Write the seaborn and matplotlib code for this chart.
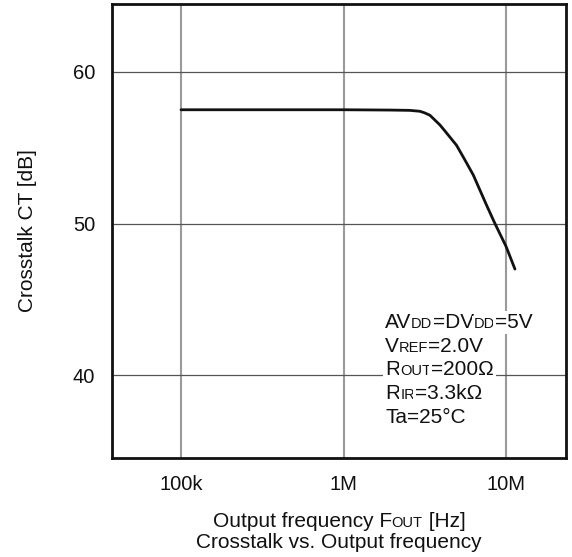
import numpy as np
import pandas as pd
import matplotlib
matplotlib.use("Agg")
import matplotlib.pyplot as plt
from matplotlib.ticker import FixedLocator, FixedFormatter, NullLocator
from matplotlib.transforms import IdentityTransform
import seaborn as sns

# values
freq_hz = [1e5, 1e6, 1.93e6, 2.56e6, 2.95e6, 3.15e6, 3.4e6, 3.92e6, 4.21e6,
           4.96e6, 5.58e6, 6.29e6, 7.6e6, 8.55e6, 10.0e6, 11.35e6]
crosstalk_db = [57.5, 57.5, 57.48, 57.46, 57.4, 57.3, 57.14, 56.5, 56.1,
                55.16, 54.2, 53.2, 51.2, 50.0, 48.5, 47.0]

x_ticks = [1e5, 1e6, 1e7]
x_tick_labels = ["100k", "1M", "10M"]
y_ticks = [40, 50, 60]

# each condition line as (text, small caps?) pieces
conditions = [
    [("AV", False), ("DD", True), ("=DV", False), ("DD", True), ("=5V", False)],
    [("V", False), ("REF", True), ("=2.0V", False)],
    [("R", False), ("OUT", True), ("=200\u03a9", False)],
    [("R", False), ("IR", True), ("=3.3k\u03a9", False)],
    [("Ta=25\u00b0C", False)],
]
xlabel_parts = [("Output frequency F", False), ("OUT", True), (" [Hz]", False)]
title_text = "Crosstalk vs. Output frequency"

sns.set_theme(style="white")
plt.rcParams["font.family"] = ["Liberation Sans", "DejaVu Sans"]

W, H = 572, 557
fig = plt.figure(figsize=(W / 100, H / 100), dpi=100)
ax = fig.add_axes([112 / W, 1 - 458 / H, 454 / W, 454 / H])

df = pd.DataFrame({"freq": freq_hz, "ct": crosstalk_db})
sns.lineplot(data=df, x="freq", y="ct", ax=ax, color="#111111", lw=2)

ax.set_xscale("log")
ax.set_xlim(3.76e4, 2.34e7)
ax.set_ylim(34.55, 64.47)
ax.xaxis.set_major_locator(FixedLocator(x_ticks))
ax.xaxis.set_major_formatter(FixedFormatter(x_tick_labels))
ax.xaxis.set_minor_locator(NullLocator())
ax.yaxis.set_major_locator(FixedLocator(y_ticks))
ax.tick_params(axis="both", length=0, labelsize=14.5, colors="#111111")
ax.tick_params(axis="x", pad=12)
ax.tick_params(axis="y", pad=12)
ax.set_xlabel("")
ax.set_ylabel("Crosstalk CT [dB]", fontsize=15, color="#111111")
ax.yaxis.set_label_coords(-0.165, 0.5)

ax.grid(False)
for xv in x_ticks:
    ax.axvline(xv, color="#9a9a9a", lw=1.5, zorder=0)
for yv in y_ticks:
    ax.axhline(yv, color="#555555", lw=0.9, zorder=0)
for s in ax.spines.values():
    s.set_visible(True)
    s.set_color("#111111")
    s.set_linewidth(2)

renderer = fig.canvas.get_renderer()
BIG, SMALL = 15, 10.5


def draw_parts(x, y, parts, ha="left", box=False):
    """place text pieces side by side in pixel coords (y from top)."""
    arts = []
    for txt, small in parts:
        kw = {}
        if box:
            kw["bbox"] = dict(boxstyle="square,pad=0.08", fc="white", ec="none")
        t = fig.text(0, 0, txt, transform=IdentityTransform(),
                     fontsize=SMALL if small else BIG, color="#111111",
                     va="baseline", ha="left", zorder=5, **kw)
        arts.append(t)
    widths = [t.get_window_extent(renderer).width for t in arts]
    if ha == "center":
        x = x - sum(widths) / 2
    for t, w in zip(arts, widths):
        t.set_position((x, H - y))
        x += w


for i, line in enumerate(conditions):
    draw_parts(385, 328 + i * 23.7, line, box=True)

draw_parts(339, 527, xlabel_parts, ha="center")
fig.text(339, H - 548, title_text, transform=IdentityTransform(),
         fontsize=BIG, color="#111111", ha="center", va="baseline")

fig.savefig("out.png", dpi=100)
